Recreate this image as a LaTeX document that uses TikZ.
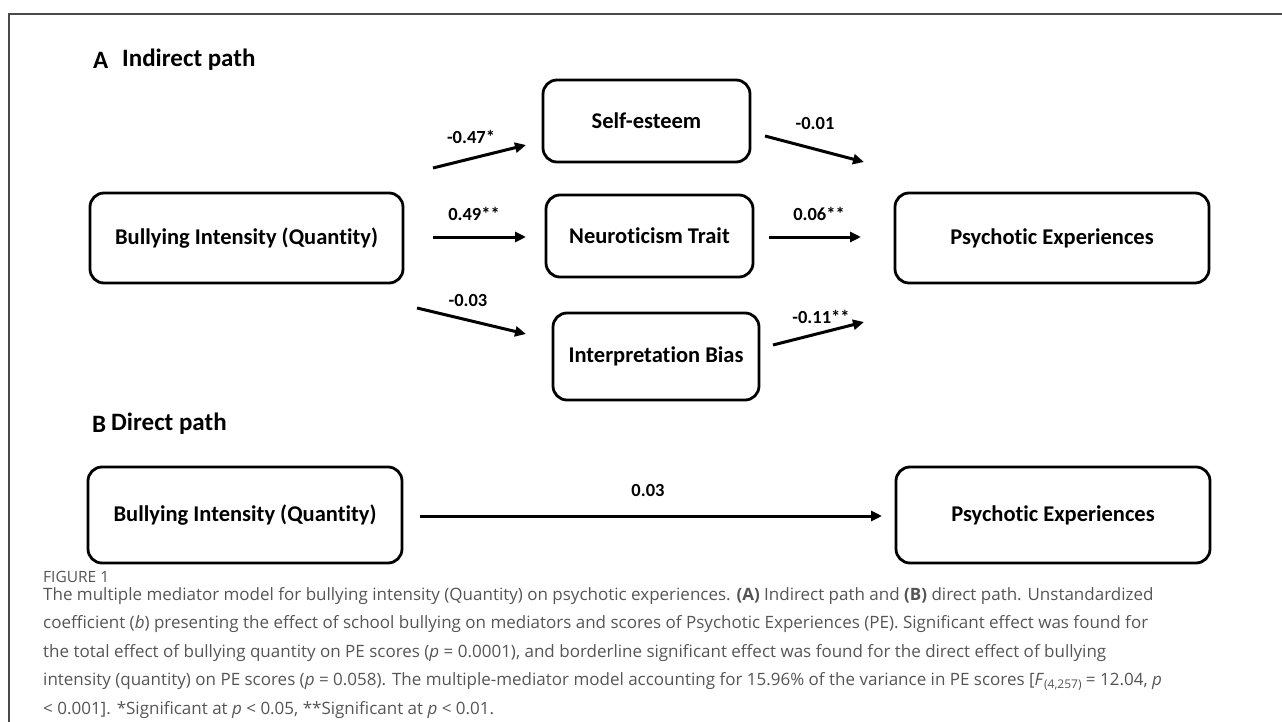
\documentclass[tikz,border=0pt]{standalone}
\usepackage{fontspec}
\setmainfont{Carlito}[Ligatures={NoCommon}]
\newfontfamily\capfont{Open Sans}
\usetikzlibrary{arrows.meta}
\definecolor{capgray}{HTML}{555555}
\definecolor{framegray}{HTML}{4A4A4A}
\tikzset{
  box/.style={draw, line width=2.8pt, rounded corners=14pt, inner sep=0pt,
    font=\bfseries\fontsize{22.5}{27}\selectfont},
  lab/.style={inner sep=0pt, font=\bfseries\fontsize{18.5}{22}\selectfont},
  head/.style={inner sep=0pt, anchor=west, font=\bfseries\fontsize{25}{30}\selectfont},
  arr/.style={line width=3pt, -{Triangle[length=11pt,width=10pt]}},
  frame/.style={draw=framegray, line width=1.5pt},
  capline/.style={inner sep=0pt, anchor=base west, text=capgray,
    font=\capfont\fontsize{17}{20}\selectfont}
}
\begin{document}
\begin{tikzpicture}[x=1pt,y=-1pt]
\useasboundingbox (0,0) rectangle (1282,722);
\draw[frame] (9,722) -- (9,14) -- (1282,14);

% headings
\node[head] (hA) at (93,60) {A};
\node[head] (hAt) at (122,60) {Indirect path};
\node[head] (hB) at (92,424) {B};
\node[head] (hBt) at (111,424) {Direct path};

% boxes panel A
\node[box, minimum width=313pt, minimum height=90pt] (bully) at (246.5,238) {Bullying Intensity (Quantity)};
\node[box, minimum width=207pt, minimum height=82pt] (self) at (646.5,121) {Self-esteem};
\node[box, minimum width=207pt, minimum height=82pt] (neuro) at (649.5,236) {Neuroticism Trait};
\node[box, minimum width=206pt, minimum height=87pt] (interp) at (656,356.5) {Interpretation Bias};
\node[box, minimum width=314pt, minimum height=90pt] (pe) at (1052,238) {Psychotic Experiences};

% arrow endpoints panel A
\coordinate (a1s) at (433,168); \coordinate (a1e) at (526,145);
\coordinate (a2s) at (765,136); \coordinate (a2e) at (864,162);
\coordinate (a3s) at (433,237); \coordinate (a3e) at (526,237);
\coordinate (a4s) at (769,237); \coordinate (a4e) at (861,237);
\coordinate (a5s) at (417,308); \coordinate (a5e) at (526,334);
\coordinate (a6s) at (773,345); \coordinate (a6e) at (864,322);
\draw[arr] (a1s) -- (a1e);
\draw[arr] (a2s) -- (a2e);
\draw[arr] (a3s) -- (a3e);
\draw[arr] (a4s) -- (a4e);
\draw[arr] (a5s) -- (a5e);
\draw[arr] (a6s) -- (a6e);
\node[lab] (l1) at (471,137) {-0.47*};
\node[lab] (l2) at (815,123) {-0.01};
\node[lab] (l3) at (474,214) {0.49**};
\node[lab] (l4) at (819,214) {0.06**};
\node[lab] (l5) at (468,300) {-0.03};
\node[lab] (l6) at (821,317) {-0.11**};

% panel B
\node[box, minimum width=314pt, minimum height=96pt] (bullyB) at (245,515) {Bullying Intensity (Quantity)};
\node[box, minimum width=314pt, minimum height=96pt] (peB) at (1053,515) {Psychotic Experiences};
\coordinate (bs) at (420,516);
\coordinate (be) at (882,516);
\draw[arr] (bs) -- (be);
\node[lab] (l7) at (648,490) {0.03};

% caption
\node[capline, font=\capfont\fontsize{15.5}{18}\selectfont] (fig) at (43,582) {FIGURE 1};
\node[capline] (c1) at (43,600) {The multiple mediator model for bullying intensity (Quantity) on psychotic experiences. \textbf{(A)} Indirect path and \textbf{(B)} direct path. Unstandardized};
\node[capline] (c2) at (43,628.5) {coefficient (\textit{b}) presenting the effect of school bullying on mediators and scores of Psychotic Experiences (PE). Significant effect was found for};
\node[capline] (c3) at (43,657) {the total effect of bullying quantity on PE scores (\textit{p} = 0.0001), and borderline significant effect was found for the direct effect of bullying};
\node[capline] (c4) at (43,685.5) {intensity (quantity) on PE scores (\textit{p} = 0.058). The multiple-mediator model accounting for 15.96\% of the variance in PE scores [\textit{F}\raisebox{-0.35ex}{\fontsize{12}{13}\selectfont(4,257)} = 12.04, \textit{p}};
\node[capline] (c5) at (43,714) {< 0.001]. *Significant at \textit{p} < 0.05, **Significant at \textit{p} < 0.01.};
\end{tikzpicture}
\end{document}
